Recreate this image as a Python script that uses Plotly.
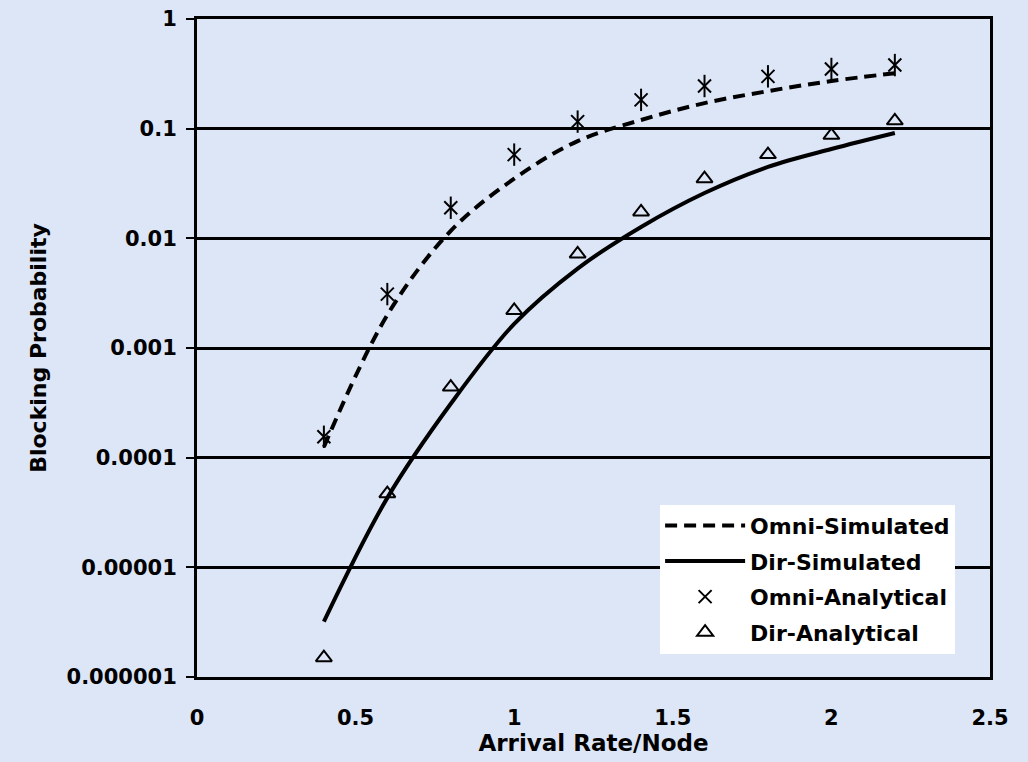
import plotly.graph_objects as go

x_vals = [0.4, 0.6, 0.8, 1.0, 1.2, 1.4, 1.6, 1.8, 2.0, 2.2]
omni_sim = [1.25e-4, 2.0e-3, 1.17e-2, 0.035, 0.077, 0.12, 0.171, 0.22, 0.272, 0.32]
dir_sim = [3.2e-6, 4.3e-5, 3.1e-4, 1.66e-3, 5.3e-3, 0.0127, 0.0259, 0.0448, 0.0653, 0.0914]
omni_ana = [1.55e-4, 3.1e-3, 0.019, 0.058, 0.116, 0.183, 0.245, 0.30, 0.35, 0.38]
dir_ana = [1.5e-6, 4.7e-5, 4.4e-4, 2.2e-3, 7.2e-3, 0.0174, 0.035, 0.058, 0.087, 0.118]

y_tickvals = [1e-6, 1e-5, 1e-4, 1e-3, 1e-2, 1e-1, 1]
y_ticktext = ["0.000001", "0.00001", "0.0001", "0.001", "0.01", "0.1", "1"]
x_tickvals = [0, 0.5, 1, 1.5, 2, 2.5]
x_ticktext = ["0", "0.5", "1", "1.5", "2", "2.5"]

BG = "#DDE6F6"
FONT = "DejaVu Sans"
FS = 21

fig = go.Figure()
fig.add_trace(go.Scatter(x=x_vals, y=omni_sim, mode="lines", name="Omni-Simulated",
                         legendgroup="a",
                         line=dict(color="black", width=4, dash="12px,7px", shape="spline")))
fig.add_trace(go.Scatter(x=x_vals, y=dir_sim, mode="lines", name="Dir-Simulated",
                         legendgroup="b",
                         line=dict(color="black", width=4, shape="spline")))
fig.add_trace(go.Scatter(x=x_vals, y=omni_ana, mode="markers", name="Omni-Analytical",
                         legendgroup="c",
                         marker=dict(symbol="x-thin-open", size=13, color="black",
                                     line=dict(color="black", width=2))))
fig.add_trace(go.Scatter(x=x_vals, y=omni_ana, mode="markers", name="Omni-Analytical",
                         legendgroup="c", showlegend=False, hoverinfo="skip",
                         marker=dict(symbol="line-ns-open", size=16, color="black",
                                     line=dict(color="black", width=2))))
fig.add_trace(go.Scatter(x=x_vals, y=dir_ana, mode="markers", name="Dir-Analytical",
                         legendgroup="d",
                         marker=dict(symbol="triangle-up-open", size=14, color="black",
                                     line=dict(color="black", width=2))))

fig.update_layout(
    width=1028, height=762,
    paper_bgcolor=BG, plot_bgcolor=BG,
    margin=dict(l=197, r=38, t=19, b=85, autoexpand=False),
    font=dict(family=FONT, size=FS, color="black", weight="bold"),
    showlegend=True,
    legend=dict(x=0.584, y=0.262, xanchor="left", yanchor="top",
                bgcolor="white", borderwidth=0,
                font=dict(family=FONT, size=22, color="black", weight="bold"),
                itemwidth=80, tracegroupgap=4),
    xaxis=dict(range=[0, 2.5], tickvals=x_tickvals, ticktext=x_ticktext,
               showgrid=False, zeroline=False, showline=True, linecolor="black", linewidth=3,
               mirror=True, ticks="outside", ticklen=20, tickcolor="rgba(0,0,0,0)",
               automargin=False,
               title=dict(text="Arrival Rate/Node", standoff=5,
                          font=dict(family=FONT, size=23, weight="bold"))),
    yaxis=dict(type="log", range=[-6, 0], tickvals=y_tickvals, ticktext=y_ticktext,
               showgrid=True, gridcolor="black", gridwidth=3, zeroline=False,
               showline=True, linecolor="black", linewidth=3, mirror=True,
               ticks="outside", ticklen=8, tickcolor="black", tickwidth=2,
               ticklabelstandoff=5, automargin=False,
               title=dict(text="Blocking Probability", standoff=14,
                          font=dict(family=FONT, size=22, weight="bold"))),
)

fig.write_html("out.html", config={"displayModeBar": False})
with open("out.html", "r", encoding="utf-8") as f:
    html = f.read()
html = html.replace("<body>", '<body style="margin:0;padding:0;">', 1)
html = html.replace("<head>", "<head><style>html,body{margin:0;padding:0;overflow:hidden;}</style>", 1)
with open("out.html", "w", encoding="utf-8") as f:
    f.write(html)
